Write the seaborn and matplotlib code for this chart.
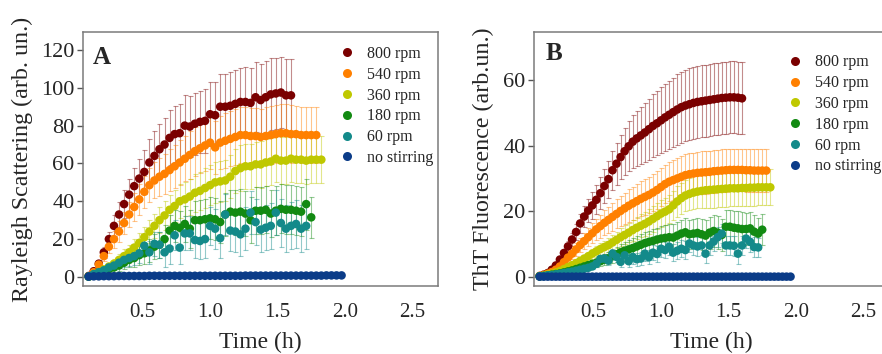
import matplotlib
matplotlib.use("Agg")
import matplotlib.pyplot as plt
from matplotlib.lines import Line2D
import numpy as np
import pandas as pd
import seaborn as sns

# ---------------- data ----------------
labels = ["800 rpm", "540 rpm", "360 rpm", "180 rpm", "60 rpm", "no stirring"]
colors = ["#7a0000", "#ff8000", "#bfc800", "#128a12", "#138a8a", "#0b3c88"]

# Panel A: Rayleigh scattering, sampling times (h)
time_a = [0.1, 0.1375, 0.175, 0.2125, 0.25, 0.2875, 0.325, 0.3625, 0.4, 0.4375,
          0.475, 0.5125, 0.55, 0.5875, 0.625, 0.6625, 0.7, 0.7375, 0.775, 0.8125,
          0.85, 0.8875, 0.925, 0.9625, 1.0, 1.0375, 1.075, 1.1125, 1.15, 1.1875,
          1.225, 1.2625, 1.3, 1.3375, 1.375, 1.4125, 1.45, 1.4875, 1.525, 1.5625,
          1.6, 1.6375, 1.675, 1.7125, 1.75, 1.7875, 1.825, 1.8625, 1.9, 1.9375, 1.975]

rs_800 = [0.5, 3, 7, 13, 20, 27, 33, 38.5, 43.5, 48, 52, 55.5, 60.5, 64, 67.5, 70, 73.5,
          75.5, 76, 80, 79.5, 81, 82, 82.5, 86, 85.5, 90, 90, 90.5, 91.5, 92.5, 92.5, 92,
          95, 93.5, 95, 96.5, 97, 97.5, 96, 96]
rs_800_sd = [0.3, 1, 2, 3, 4, 5.5, 6.5, 7.5, 8.5, 9.5, 10.5, 11.5, 12.5, 13, 13.5, 14, 14.5,
             15, 15.5, 16, 16, 16.5, 16.5, 17, 17, 17.5, 17.5, 17.5, 18, 18, 18, 18.5, 18.5,
             18.5, 19, 19, 19, 19, 19, 19, 19]
rs_540 = [0.3, 2.5, 6.5, 11, 16, 20, 24, 28.5, 33, 37, 41, 45, 48.5, 51, 53, 54.5, 56.5,
          58.5, 60.5, 62.5, 64.5, 66.5, 68, 69.5, 71, 68.5, 71, 72, 73, 74, 75, 75, 74.5,
          74.5, 74, 74.5, 75, 75.5, 76, 76, 75.5, 75.5, 75, 75, 75, 75]
rs_540_sd = [0.3, 0.8, 1.5, 2.5, 3.5, 4.5, 5.5, 6, 6.5, 7.5, 8, 8.5, 9, 9.5, 10, 10.5, 11,
             11.5, 12, 12, 12.5, 13, 13, 13.5, 14, 14, 14, 14.5, 14.5, 15, 15, 15, 15, 15,
             15, 15.5, 15.5, 15.5, 15.5, 15.5, 15.5, 15, 15, 15, 15, 15]
rs_360 = [0.2, 1.5, 2.5, 4, 5.5, 7, 9, 11, 13, 15.5, 18, 21, 24, 27, 30, 32.5, 35.5, 37.5,
          40, 41, 42.5, 44.5, 45.5, 47, 48.5, 50, 50.5, 51, 53, 56, 57.5, 58.5, 58.5, 59.5,
          59.5, 60.5, 61, 62.5, 61.5, 61.5, 62.5, 62, 62, 61.5, 62, 62, 62]
rs_360_sd = [0.2, 0.5, 1, 1.5, 2, 2.5, 3, 3.5, 4, 4.5, 5, 5.5, 6, 6.5, 7, 7.5, 8, 8.5, 9, 9,
             9.5, 10, 10, 10.5, 10.5, 11, 11, 11, 11.5, 11.5, 12, 12, 12, 12, 12.5, 12.5,
             12.5, 12.5, 12.5, 12.5, 12.5, 12.5, 12.5, 12.5, 12.5, 12.5, 12.5]
rs_180 = [0.2, 1, 2, 3, 4, 5, 6, 7.5, 9, 10, 11.5, 12.5, 14, 16, 17, 20, 24.5, 27, 26, 28,
          25.5, 30, 30, 30.5, 31, 30.5, 29, 33, 34.5, 34, 34.5, 33.5, 30, 35, 35, 35.5,
          33.5, 35, 36, 35.5, 35.5, 35, 34.5, 38.5, 31.5]
rs_180_sd = [0.2, 0.5, 1, 1.5, 2, 2.5, 3, 3.5, 4, 4.5, 5, 5.5, 6, 6.5, 7, 7.5, 8, 8.5, 9,
             9.5, 10, 10, 10.5, 10.5, 11, 11, 11, 11.5, 11.5, 12, 12, 12, 12, 12.5, 12.5,
             12.5, 12.5, 13, 13, 13, 13, 13, 13, 13.5, 11]
rs_60 = [0.2, 1.5, 2.5, 3.5, 5, 6, 7.5, 9, 10, 11, 12.5, 16.5, 13, 17.5, 17, 13, 15, 22,
         15.5, 23, 23, 19.5, 19, 20, 27, 25.5, 20.5, 33, 24.5, 24, 22.5, 25.5, 34, 29, 25,
         26, 27, 34, 28.5, 25.5, 27, 28, 25.5, 27]
rs_60_sd = [0.2, 0.5, 1, 1.5, 2, 2.5, 3, 3.5, 4, 4.5, 5, 5.5, 6, 6.5, 7, 7.5, 8, 8, 8.5, 9,
            9, 9.5, 9.5, 10, 10, 10.5, 10.5, 11, 11, 11, 11.5, 11.5, 11.5, 12, 12, 12, 12,
            12, 12.5, 12.5, 12.5, 12.5, 12.5, 12.5]
rs_none = [0.2, 0.3, 0.3, 0.4, 0.4, 0.4, 0.5, 0.5, 0.5, 0.5, 0.5, 0.5, 0.6, 0.6, 0.6, 0.6,
           0.6, 0.6, 0.6, 0.6, 0.6, 0.6, 0.6, 0.6, 0.6, 0.6, 0.6, 0.6, 0.6, 0.6, 0.6, 0.7,
           0.7, 0.7, 0.7, 0.7, 0.7, 0.7, 0.7, 0.7, 0.7, 0.7, 0.7, 0.7, 0.7, 0.7, 0.7, 0.8,
           0.8, 0.8, 0.8]

# Panel B: ThT fluorescence, sampling times (h)
time_b = [0.10, 0.13, 0.16, 0.19, 0.22, 0.25, 0.28, 0.31, 0.34, 0.37,
          0.40, 0.43, 0.46, 0.49, 0.52, 0.55, 0.58, 0.61, 0.64, 0.67,
          0.70, 0.73, 0.76, 0.79, 0.82, 0.85, 0.88, 0.91, 0.94, 0.97,
          1.00, 1.03, 1.06, 1.09, 1.12, 1.15, 1.18, 1.21, 1.24, 1.27,
          1.30, 1.33, 1.36, 1.39, 1.42, 1.45, 1.48, 1.51, 1.54, 1.57,
          1.60, 1.63, 1.66, 1.69, 1.72, 1.75, 1.78, 1.81, 1.84, 1.87,
          1.90, 1.93, 1.96]

tht_800 = [0.3, 0.7, 1.2, 2.2, 3.5, 5.3, 7.3, 9.3, 11.4, 13.7, 16.3, 18.4, 20.2, 21.8,
           23.5, 25.5, 27.7, 29.8, 32.5, 34.5, 36.5, 38.3, 39.8, 41.2, 42.2, 43.1, 44.0,
           45.0, 46.0, 46.8, 47.7, 48.6, 49.4, 50.2, 51.0, 51.7, 52.2, 52.6, 53.0, 53.3,
           53.5, 53.7, 53.9, 54.1, 54.3, 54.5, 54.6, 54.7, 54.7, 54.6, 54.4]
tht_800_sd = [0.1, 0.2, 0.3, 0.5, 0.7, 1.0, 1.3, 1.6, 2.0, 2.4, 2.8, 3.2, 3.6, 4.0, 4.4,
              4.8, 5.2, 5.6, 6.0, 6.4, 6.8, 7.2, 7.6, 8.0, 8.4, 8.7, 9.0, 9.3, 9.6, 9.8,
              10.0, 10.2, 10.4, 10.5, 10.7, 10.8, 10.9, 11.0, 11.0, 11.0, 11.0, 11.0, 11.0,
              11.0, 11.0, 11.0, 11.0, 11.0, 11.0, 11.0, 11.0]
tht_540 = [0.3, 0.6, 1.0, 1.5, 2.2, 3.2, 4.5, 5.9, 7.1, 8.4, 9.7, 10.9, 12.1, 13.3, 14.5,
           15.5, 16.5, 17.4, 18.3, 19.2, 20.1, 20.9, 21.7, 22.4, 23.1, 23.8, 24.4, 25.0,
           25.7, 26.5, 27.4, 28.3, 29.0, 29.5, 30.0, 30.5, 31.0, 31.3, 31.5, 31.7, 31.8,
           31.9, 32.0, 32.2, 32.3, 32.4, 32.5, 32.6, 32.6, 32.6, 32.6, 32.5, 32.5, 32.4,
           32.4, 32.4, 32.4]
tht_540_sd = [0.1, 0.2, 0.3, 0.4, 0.6, 0.8, 1.0, 1.3, 1.6, 1.9, 2.2, 2.5, 2.8, 3.0, 3.3,
              3.5, 3.8, 4.0, 4.2, 4.4, 4.6, 4.8, 5.0, 5.1, 5.2, 5.3, 5.4, 5.5, 5.6, 5.7,
              5.8, 5.9, 6.0, 6.1, 6.2, 6.3, 6.3, 6.4, 6.4, 6.5, 6.5, 6.5, 6.5, 6.5, 6.5,
              6.5, 6.5, 6.5, 6.5, 6.5, 6.5, 6.5, 6.5, 6.5, 6.5, 6.5, 6.5]
tht_360 = [0.2, 0.4, 0.7, 1.0, 1.4, 1.8, 2.4, 3.0, 3.6, 4.2, 4.9, 5.6, 6.3, 7.1, 7.8, 8.5,
           9.1, 9.7, 10.5, 11.3, 12.1, 12.8, 13.5, 14.3, 15.0, 15.6, 16.2, 16.9, 17.7,
           18.5, 19.3, 19.9, 20.6, 21.8, 23.0, 24.0, 24.8, 25.3, 25.7, 26.0, 26.2, 26.4,
           26.5, 26.6, 26.7, 26.8, 26.9, 27.0, 27.0, 27.0, 27.1, 27.1, 27.2, 27.2, 27.3,
           27.3, 27.3, 27.3]
tht_360_sd = [0.1, 0.1, 0.2, 0.3, 0.4, 0.5, 0.6, 0.7, 0.8, 0.9, 1.0, 1.2, 1.4, 1.5, 1.7,
              1.9, 2.0, 2.2, 2.4, 2.5, 2.7, 2.9, 3.0, 3.2, 3.3, 3.5, 3.6, 3.8, 3.9, 4.0,
              4.1, 4.2, 4.3, 4.5, 4.6, 4.7, 4.8, 4.9, 5.0, 5.1, 5.2, 5.3, 5.4, 5.5, 5.5,
              5.5, 5.5, 5.5, 5.5, 5.5, 5.5, 5.5, 5.5, 5.5, 5.5, 5.5, 5.5, 5.5]
tht_180 = [0.2, 0.3, 0.5, 0.7, 0.9, 1.1, 1.4, 1.7, 2.0, 2.4, 2.8, 3.2, 3.6, 4.0, 4.3, 4.8,
           5.3, 5.7, 6.3, 6.9, 7.5, 8.0, 8.4, 8.8, 9.3, 9.8, 10.3, 10.7, 11.0, 11.4, 11.7,
           11.9, 12.1, 12.0, 12.6, 13.2, 13.6, 13.0, 13.2, 13.4, 13.0, 12.6, 13.5, 14.0,
           13.5, 12.8, 15.3, 15.3, 15.0, 14.8, 14.6, 14.6, 14.8, 13.8, 13.2, 14.4]
tht_180_sd = [0.1, 0.1, 0.2, 0.3, 0.4, 0.5, 0.6, 0.7, 0.8, 0.9, 1.0, 1.1, 1.2, 1.3, 1.4,
              1.5, 1.6, 1.8, 2.0, 2.2, 2.4, 2.6, 2.8, 3.0, 3.1, 3.2, 3.3, 3.4, 3.5, 3.6,
              3.7, 3.8, 3.9, 4.0, 4.1, 4.2, 4.3, 4.4, 4.5, 4.6, 4.7, 4.8, 4.9, 5.0, 5.0,
              5.0, 5.2, 5.2, 5.2, 5.2, 5.2, 5.0, 5.0, 5.0, 4.8, 4.8]
tht_60 = [0.2, 0.3, 0.5, 0.6, 0.8, 1.0, 1.2, 1.4, 1.6, 1.9, 2.2, 2.5, 2.8, 3.2, 4.0, 5.5,
          5.6, 5.0, 7.1, 6.1, 4.6, 6.6, 4.8, 6.1, 5.4, 5.6, 7.1, 6.0, 7.4, 7.0, 8.6, 8.2,
          9.2, 7.4, 8.0, 8.6, 8.2, 10.2, 9.6, 9.3, 9.6, 7.1, 9.6, 10.8, 12.1, 13.2, 9.6,
          9.6, 9.5, 7.1, 9.6, 11.7, 10.7, 9.1, 9.0]
tht_60_sd = [0.1, 0.1, 0.2, 0.2, 0.3, 0.3, 0.4, 0.4, 0.5, 0.5, 0.6, 0.7, 0.8, 0.9, 1.0,
             1.2, 1.3, 1.4, 1.5, 1.6, 1.7, 1.8, 1.9, 2.0, 2.0, 2.1, 2.2, 2.2, 2.3, 2.3,
             2.4, 2.4, 2.5, 2.5, 2.6, 2.6, 2.7, 2.7, 2.8, 2.8, 2.9, 2.9, 3.0, 3.0, 3.0,
             3.0, 3.0, 3.0, 3.0, 3.0, 3.0, 3.0, 3.0, 3.0, 3.0]
tht_none = [0.1, 0.1, 0.1, 0.1, 0.1, 0.1, 0.1, 0.1, 0.1, 0.1, 0.1, 0.1, 0.1, 0.1, 0.1,
            0.1, 0.1, 0.1, 0.1, 0.1, 0.1, 0.1, 0.1, 0.1, 0.1, 0.1, 0.1, 0.1, 0.1, 0.1,
            0.1, 0.1, 0.1, 0.1, 0.1, 0.1, 0.1, 0.1, 0.1, 0.1, 0.1, 0.1, 0.1, 0.1, 0.1,
            0.1, 0.1, 0.1, 0.1, 0.1, 0.1, 0.1, 0.1, 0.1, 0.1, 0.1, 0.1, 0.1, 0.1, 0.1,
            0.1, 0.1, 0.1]

x_ticks = [0.5, 1.0, 1.5, 2.0, 2.5]
x_ticklabels = ["0.5", "1.0", "1.5", "2.0", "2.5"]

panel_a = [(rs_800, rs_800_sd), (rs_540, rs_540_sd), (rs_360, rs_360_sd),
           (rs_180, rs_180_sd), (rs_60, rs_60_sd), (rs_none, None)]
panel_b = [(tht_800, tht_800_sd), (tht_540, tht_540_sd), (tht_360, tht_360_sd),
           (tht_180, tht_180_sd), (tht_60, tht_60_sd), (tht_none, None)]

# ---------------- style ----------------
sns.set_theme(style="white")
plt.rcParams["font.family"] = ["Liberation Serif", "DejaVu Serif"]
plt.rcParams["axes.edgecolor"] = "#7a7a7a"
plt.rcParams["axes.linewidth"] = 1.1

fig = plt.figure(figsize=(8.82, 3.54), dpi=100)
W, H = 882, 354


def add_axes_px(left, top, right, bottom):
    return fig.add_axes([left / W, 1 - bottom / H, (right - left) / W, (bottom - top) / H])


def long_frame(times, series):
    frames = []
    for lab, (vals, sd) in zip(labels, series):
        n = len(vals)
        frames.append(pd.DataFrame({
            "time": times[:n],
            "value": vals,
            "sd": sd if sd is not None else [0.0] * n,
            "stirring": lab,
        }))
    return pd.concat(frames, ignore_index=True)


def draw_panel(ax, times, series, ylim, yticks, ylabel, letter, letter_pos,
               leg_anchor, ylabel_x):
    df = long_frame(times, series)
    for lab, col in zip(labels, colors):
        sub = df[df["stirring"] == lab]
        if sub["sd"].max() > 0:
            ax.errorbar(sub["time"], sub["value"], yerr=sub["sd"], fmt="none",
                        ecolor=col, alpha=0.45, elinewidth=0.8, capsize=1.8,
                        capthick=0.8, zorder=1)
    sns.scatterplot(data=df, x="time", y="value", hue="stirring", hue_order=labels,
                    palette=colors, s=38, linewidth=0, legend=False, ax=ax, zorder=3)
    ax.set_xlim(0.058, 2.69)
    ax.set_ylim(*ylim)
    ax.set_xticks(x_ticks)
    ax.set_xticklabels(x_ticklabels)
    ax.set_yticks(yticks)
    ax.tick_params(axis="x", direction="in", length=4, width=1, color="#555555",
                   labelsize=15, pad=12)
    ax.tick_params(axis="y", direction="out", length=4, width=1, color="#555555",
                   labelsize=16, pad=2, left=True)
    ax.set_xlabel("Time (h)", fontsize=17)
    ax.set_ylabel(ylabel, fontsize=17.3)
    ax.xaxis.set_label_coords(0.5, -0.18)
    ax.yaxis.set_label_coords(ylabel_x, 0.5)
    ax.text(letter_pos[0], letter_pos[1], letter, transform=ax.transAxes,
            fontsize=18, fontweight="bold", ha="left", va="top")
    handles = [Line2D([0], [0], marker="o", linestyle="none", markersize=6.5,
                      markerfacecolor=c, markeredgewidth=0) for c in colors]
    ax.legend(handles, labels, loc="upper left", bbox_to_anchor=leg_anchor,
              frameon=False, fontsize=11.5, handlelength=1.0, handletextpad=0.75,
              labelspacing=0.3, borderpad=0, borderaxespad=0)
    for s in ax.spines.values():
        s.set_color("#7a7a7a")


ax_a = add_axes_px(83, 32, 438, 286)
draw_panel(ax_a, time_a, panel_a, (-4.8, 129.5), [0, 20, 40, 60, 80, 100, 120],
           "Rayleigh Scattering (arb. un.)", "A", (0.028, 0.945), (0.721, 0.945),
           -0.141)

ax_b = add_axes_px(534, 32, 889, 286)
draw_panel(ax_b, time_b, panel_b, (-2.75, 74.6), [0, 20, 40, 60],
           "ThT Fluorescence (arb.un.)", "B", (0.034, 0.96), (0.712, 0.912), -0.113)

fig.savefig("out.png", dpi=100)
